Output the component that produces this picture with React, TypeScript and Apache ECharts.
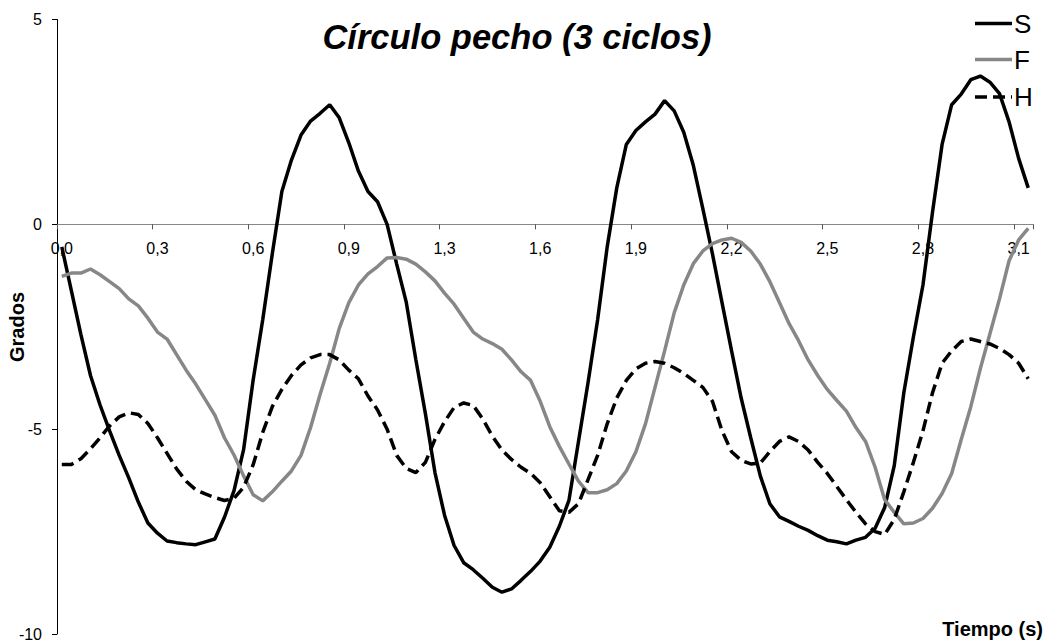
import React, { useEffect, useRef } from "react";
import * as echarts from "echarts";

// Sampling rate of the recording (samples per second)
const SAMPLE_RATE = 32;

// Joint angles (degrees) for the three recorded planes
const S = [
  -0.55, -1.62, -2.69, -3.69, -4.41, -5.04, -5.64, -6.19, -6.78, -7.29,
  -7.54, -7.73, -7.77, -7.8, -7.82, -7.75, -7.68, -7.15, -6.5, -5.5,
  -3.8, -2.33, -0.72, 0.8, 1.57, 2.18, 2.52, 2.71, 2.92, 2.6,
  1.99, 1.3, 0.8, 0.55, 0.0, -0.97, -1.9, -3.3, -4.62, -6.06,
  -7.1, -7.84, -8.26, -8.43, -8.64, -8.86, -8.98, -8.9, -8.69, -8.47,
  -8.22, -7.88, -7.37, -6.74, -5.3, -3.86, -2.33, -0.55, 0.89, 1.95,
  2.29, 2.5, 2.69, 3.02, 2.77, 2.25, 1.44, 0.38, -0.72, -1.91,
  -3.09, -4.24, -5.21, -6.14, -6.82, -7.14, -7.25, -7.37, -7.47, -7.6,
  -7.71, -7.75, -7.8, -7.71, -7.64, -7.42, -6.91, -5.89, -4.11, -2.75,
  -1.48, 0.3, 1.95, 2.92, 3.18, 3.53, 3.62, 3.47, 3.19, 2.5,
  1.61, 0.89,
];

const F = [
  -1.27, -1.19, -1.19, -1.09, -1.23, -1.4, -1.57, -1.82, -1.99, -2.29,
  -2.63, -2.8, -3.18, -3.56, -3.9, -4.28, -4.66, -5.21, -5.63, -6.14,
  -6.6, -6.75, -6.53, -6.27, -6.02, -5.64, -4.96, -4.15, -3.39, -2.54,
  -1.91, -1.48, -1.21, -1.03, -0.82, -0.81, -0.85, -0.97, -1.16, -1.38,
  -1.68, -1.95, -2.29, -2.63, -2.8, -2.91, -3.05, -3.31, -3.6, -3.81,
  -4.32, -4.94, -5.42, -5.85, -6.27, -6.55, -6.55, -6.48, -6.33, -6.02,
  -5.55, -4.87, -3.98, -3.09, -2.16, -1.48, -0.96, -0.65, -0.47, -0.38,
  -0.34, -0.44, -0.65, -0.97, -1.4, -1.91, -2.42, -2.84, -3.31, -3.69,
  -4.03, -4.3, -4.56, -4.96, -5.3, -5.93, -6.72, -7.03, -7.31, -7.29,
  -7.18, -6.93, -6.57, -6.08, -5.25, -4.45, -3.52, -2.67, -1.82, -0.89,
  -0.38, -0.1,
];

const H = [
  -5.86, -5.86, -5.72, -5.48, -5.21, -4.92, -4.7, -4.6, -4.64, -4.86,
  -5.21, -5.59, -5.97, -6.27, -6.48, -6.58, -6.67, -6.74, -6.69, -6.42,
  -5.87, -5.08, -4.45, -4.03, -3.69, -3.43, -3.26, -3.18, -3.18, -3.31,
  -3.56, -3.77, -4.19, -4.53, -5.0, -5.64, -5.96, -6.06, -5.81, -5.25,
  -4.82, -4.47, -4.36, -4.42, -4.75, -5.17, -5.51, -5.74, -5.93, -6.08,
  -6.31, -6.65, -6.99, -7.03, -6.82, -6.23, -5.64, -4.87, -4.24, -3.81,
  -3.53, -3.39, -3.35, -3.39, -3.5, -3.64, -3.81, -3.98, -4.32, -5.04,
  -5.55, -5.76, -5.85, -5.83, -5.55, -5.3, -5.19, -5.3, -5.51, -5.81,
  -6.08, -6.4, -6.72, -7.03, -7.31, -7.5, -7.57, -7.2, -6.53, -5.81,
  -5.04, -4.11, -3.39, -3.09, -2.86, -2.8, -2.86, -2.92, -3.03, -3.18,
  -3.39, -3.77,
];

// Sample times in seconds, one per recorded value
const TIMES = S.map((_, i) => i / SAMPLE_RATE);

const SERIES_NAMES = ["S", "F", "H"];
const Y_MIN = -10;
const Y_MAX = 5;
const Y_STEP = 5;

const FONT = "'Liberation Sans', Arial, Helvetica, sans-serif";
const GRAY = "#878787";
const DASH = [12, 6];
const LINE_W = 3.5;

// Plot area in page pixels
const GRID_LEFT = 57;
const GRID_RIGHT = 13;
const GRID_TOP = 19.5;
const GRID_BOTTOM = 9;
const HEIGHT = 643;
const PLOT_H = HEIGHT - GRID_TOP - GRID_BOTTOM;
// Lift the category axis from the bottom edge up to the value 0
const X_AXIS_OFFSET = -PLOT_H * (0 - Y_MIN) / (Y_MAX - Y_MIN);

export default function App() {
  const ref = useRef<HTMLDivElement>(null);

  useEffect(() => {
    if (!ref.current) return;
    const chart = echarts.init(ref.current, undefined, { renderer: "svg" });

    const legendRows = [
      { name: SERIES_NAMES[0], y: 23.5, color: "#000", dash: null as number[] | null },
      { name: SERIES_NAMES[1], y: 59.5, color: GRAY, dash: null as number[] | null },
      { name: SERIES_NAMES[2], y: 97, color: "#000", dash: DASH },
    ];

    const legendGraphics: any[] = [];
    legendRows.forEach((r) => {
      legendGraphics.push({
        type: "line",
        shape: { x1: 975, y1: r.y, x2: 1012, y2: r.y },
        style: {
          stroke: r.color,
          lineWidth: LINE_W,
          lineDash: r.dash || undefined,
        },
      });
      legendGraphics.push({
        type: "text",
        x: 1014,
        y: r.y,
        style: {
          text: r.name,
          fontSize: 26,
          fontFamily: FONT,
          fill: "#000",
          textAlign: "left",
          textVerticalAlign: "middle",
        },
      });
    });

    chart.setOption({
      animation: false,
      backgroundColor: "#fff",
      grid: {
        left: GRID_LEFT,
        right: GRID_RIGHT,
        top: GRID_TOP,
        bottom: GRID_BOTTOM,
        containLabel: false,
        outerBoundsMode: "none",
      },
      xAxis: {
        type: "category",
        data: TIMES,
        boundaryGap: true,
        position: "bottom",
        offset: X_AXIS_OFFSET,
        axisLine: { onZero: false, lineStyle: { color: GRAY, width: 1 } },
        axisTick: {
          show: true,
          interval: 9,
          length: 5,
          lineStyle: { color: "#555", width: 1 },
        },
        axisLabel: {
          interval: 9,
          fontSize: 16,
          fontFamily: FONT,
          color: "#000",
          margin: 16,
          formatter: (v: any) => Number(v).toFixed(1).replace(".", ","),
        },
        splitLine: { show: false },
      },
      yAxis: {
        type: "value",
        min: Y_MIN,
        max: Y_MAX,
        interval: Y_STEP,
        axisLine: { show: true, onZero: false, lineStyle: { color: "#000", width: 1 } },
        axisTick: { show: true, length: 5, lineStyle: { color: "#000", width: 1 } },
        axisLabel: {
          fontSize: 16,
          fontFamily: FONT,
          color: "#000",
          margin: 15,
        },
        splitLine: { show: false },
      },
      series: [
        {
          name: SERIES_NAMES[0],
          type: "line",
          data: S,
          symbol: "none",
          lineStyle: { color: "#000", width: LINE_W },
        },
        {
          name: SERIES_NAMES[1],
          type: "line",
          data: F,
          symbol: "none",
          lineStyle: { color: GRAY, width: LINE_W },
        },
        {
          name: SERIES_NAMES[2],
          type: "line",
          data: H,
          symbol: "none",
          lineStyle: { color: "#000", width: LINE_W, type: DASH },
        },
      ],
      graphic: [
        {
          type: "text",
          x: 517,
          y: 36.5,
          style: {
            text: "Círculo pecho (3 ciclos)",
            fontSize: 34.5,
            fontWeight: "bold",
            fontStyle: "italic",
            fontFamily: FONT,
            fill: "#000",
            textAlign: "center",
            textVerticalAlign: "middle",
          },
        },
        {
          type: "text",
          x: 16.5,
          y: 327,
          rotation: Math.PI / 2,
          style: {
            text: "Grados",
            fontSize: 20,
            fontWeight: "bold",
            fontFamily: FONT,
            fill: "#000",
            textAlign: "center",
            textVerticalAlign: "middle",
          },
        },
        {
          type: "text",
          x: 1043,
          y: 629,
          style: {
            text: "Tiempo (s)",
            fontSize: 20,
            fontWeight: "bold",
            fontFamily: FONT,
            fill: "#000",
            textAlign: "right",
            textVerticalAlign: "middle",
          },
        },
        ...legendGraphics,
      ],
    });

    return () => chart.dispose();
  }, []);

  return (
    <div
      ref={ref}
      style={{ position: "absolute", left: 0, top: 0, width: 1046, height: HEIGHT }}
    />
  );
}
